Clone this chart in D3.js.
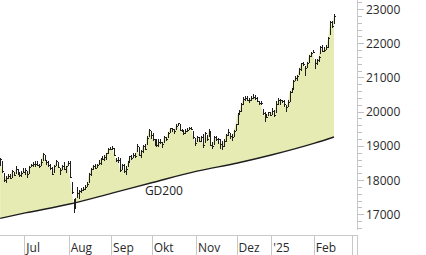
<!DOCTYPE html>
<html><head><meta charset="utf-8">
<script src="https://cdn.jsdelivr.net/npm/d3@7"></script>
<style>
html,body{margin:0;padding:0;background:#fff;}
svg{display:block;}
text{font-family:"Open Sans","Noto Sans",sans-serif;}
</style></head>
<body>
<svg id="c" width="426" height="255"></svg>
<script>
// Trading days from 12 Jun 2024 (index 0) to 17 Feb 2025 (index 173)
const opens = [18450,18540,18180,18000,18100,18150,18100,18230,18200,18310,18160,18170,18250,
18300,18250,18200,18400,18430,18450,18500,18430,18450,18600,18700,18560,18500,18400,18320,18250,18440,18500,18300,18350,18450,18300,18450,
18520,17900,17400,17400,17500,17550,17700,17750,17750,17850,17950,18150,18350,18450,18400,18480,18500,18650,18600,18700,18800,18920,
18910,18900,18600,18620,18600,18350,18450,18300,18400,18550,18680,18680,18730,18850,18950,18750,18850,19000,19050,19300,19400,
19300,19100,19150,19050,19150,19050,19100,19230,19250,19400,19500,19450,19480,19600,19620,19450,19400,19400,19450,19500,19500,19400,19200,
19150,19200,19150,19300,19100,19300,19300,19400,19050,19050,19250,19150,19150,19050,19050,19150,19350,19350,19300,19300,19450,
19650,19950,20050,20250,20350,20400,20350,20350,20420,20420,20380,20300,20250,20000,19950,19900,19900,19950,
19950,20000,20000,20250,20300,20320,20300,20150,20200,20300,20600,20700,20950,21000,21100,21250,21400,21300,21300,21450,21650,21750,
21400,21450,21550,21700,21900,21850,21850,21950,22300,22600,22600];
const highs = [18660,18560,18200,18120,18180,18190,18290,18250,18400,18330,18250,18260,18350,
18360,18280,18400,18480,18520,18550,18560,18480,18620,18780,18720,18600,18560,18480,18380,18430,18600,18520,18350,18450,18520,18420,18560,
18560,17950,17450,17480,17800,17700,17770,17800,17850,17950,18200,18350,18440,18480,18470,18580,18660,18700,18720,18800,18950,18970,
18990,18930,18650,18680,18650,18480,18470,18400,18560,18710,18720,18800,18800,19050,18970,18870,19020,19050,19280,19490,19430,
19380,19200,19200,19200,19200,19120,19280,19270,19400,19520,19520,19480,19630,19680,19650,19500,19450,19490,19510,19560,19560,19420,19230,
19300,19250,19280,19350,19400,19330,19500,19420,19100,19290,19300,19230,19200,19130,19200,19340,19480,19380,19350,19450,19650,
19950,20050,20250,20420,20450,20450,20400,20450,20522,20480,20420,20320,20300,20080,20000,19920,20000,19990,
20100,20050,20300,20400,20380,20350,20350,20200,20330,20600,20700,20920,21050,21060,21280,21420,21450,21320,21450,21650,21750,21800,
21550,21550,21620,21920,21950,21900,21950,22180,22650,22650,22850];
const lows = [18420,18220,17950,17920,18020,18030,18060,18120,18180,18150,18080,18100,18200,
18160,18060,18180,18370,18380,18380,18400,18350,18420,18560,18560,18440,18380,18300,18150,18230,18420,18350,18150,18300,18300,18200,18400,
18050,17600,17024,17150,17480,17450,17620,17680,17700,17800,17930,18130,18300,18330,18340,18460,18450,18580,18580,18600,18780,18870,
18880,18700,18520,18500,18250,18300,18210,18160,18380,18530,18600,18650,18650,18830,18700,18650,18780,18880,19020,19280,19200,
19150,19000,18980,18980,19050,18950,19080,19150,19230,19380,19400,19350,19450,19580,19440,19400,19320,19350,19400,19450,19450,19200,19000,
19120,19100,19100,18950,19080,19150,19280,19000,18900,19030,19150,19050,18900,18870,18960,19100,19300,19200,19150,19280,19430,
19620,19900,20000,20200,20300,20300,20250,20320,20380,20350,20280,20200,20200,19900,19700,19800,19880,19880,
19900,19850,19980,20200,20200,20250,20150,20000,20150,20280,20550,20680,20900,20900,21080,21200,21330,21050,21280,21420,21600,21700,
21250,21350,21450,21680,21750,21750,21800,21850,22250,22450,22550];
const closes = [18630,18265,18002,18068,18131,18067,18254,18163,18325,18177,18155,18210,18235,
18290,18164,18375,18450,18475,18472,18429,18407,18534,18748,18590,18518,18437,18354,18171,18407,18558,18387,18299,18418,18320,18411,18509,
18083,17661,17339,17354,17615,17680,17723,17726,17812,17885,18166,18322,18421,18357,18448,18493,18633,18617,18681,18782,18912,18906,
18930,18747,18592,18576,18301,18443,18266,18330,18518,18699,18633,18726,18711,19002,18720,18847,18996,18918,19238,19473,19325,
19213,19164,19015,19120,19104,19066,19254,19210,19373,19508,19486,19432,19583,19657,19461,19421,19378,19443,19463,19532,19479,19257,19078,
19255,19148,19256,19039,19362,19215,19448,19033,19003,19264,19211,19189,19060,19004,19146,19323,19405,19296,19262,19426,19626,
19934,20016,20232,20358,20385,20346,20329,20399,20427,20406,20314,20246,20242,19970,19885,19849,19985,19909,
20025,19906,20217,20340,20330,20317,20215,20133,20271,20575,20655,20903,20990,21042,21254,21411,21395,21282,21430,21637,21727,21732,
21428,21505,21586,21902,21787,21800,21893,22149,22612,22514,22798];

// GD200 (200-day moving average) read at selected trading days
const gdIdx  = [0,13,36,58,79,102,123,141,163,173];
const gdVals = [16880,17040,17300,17620,17930,18260,18500,18740,19080,19260];
const gdLabel = "GD200";

// month separators (index of first trading day) and labels
const monthStarts = [13,36,58,79,102,123,141,163,183];
const monthLabels = ["Jul","Aug","Sep","Okt","Nov","Dez","'25","Feb",""];

const yMajor = [17000,18000,19000,20000,21000,22000,23000];
const yMinorRange = [16600, 23200, 200];

const svg = d3.select("#c");
const axisX = 357, baseY = 235;

const x = d3.scaleLinear().domain([12.5, 182.5]).range([24.3, 352.3]);
const y = d3.scaleLinear().domain([17000, 23000]).range([214.3, 9]);

// fill between price and GD200
const topPts = closes.map((c,i)=>[x(i), y(c)]);
const botPts = gdIdx.map((d,i)=>[x(d), y(gdVals[i])]).reverse();
svg.append("path")
  .attr("d", d3.line()(topPts.concat(botPts)) + "Z")
  .attr("fill", "#e6eab3").attr("stroke","none");

// GD200 line
svg.append("path")
  .attr("d", d3.line().x((d,i)=>x(gdIdx[i])).y(d=>y(d)).curve(d3.curveMonotoneX)(gdVals))
  .attr("fill","none").attr("stroke","#1e1e1e").attr("stroke-width",1.4);

// OHLC bars
const bars = svg.append("g").attr("stroke","#1e1e1e").attr("stroke-width",1).attr("shape-rendering","crispEdges");
closes.forEach((c,i)=>{
  const cx = Math.round(x(i)) + 0.5;
  bars.append("line").attr("x1",cx).attr("x2",cx).attr("y1",y(highs[i])).attr("y2",y(lows[i]));
  bars.append("line").attr("x1",cx-1).attr("x2",cx).attr("y1",Math.round(y(opens[i]))+0.5).attr("y2",Math.round(y(opens[i]))+0.5);
  bars.append("line").attr("x1",cx).attr("x2",cx+1).attr("y1",Math.round(y(c))+0.5).attr("y2",Math.round(y(c))+0.5);
});

// GD200 label
svg.append("text").attr("x", x(75)).attr("y", y(17550)).text(gdLabel)
  .attr("font-size",12).attr("fill","#222");

// right axis
const ax = svg.append("g").attr("shape-rendering","crispEdges");
ax.append("line").attr("x1",axisX+0.5).attr("x2",axisX+0.5).attr("y1",0).attr("y2",230).attr("stroke","#c8c8c8");
ax.append("line").attr("x1",axisX+0.5).attr("x2",axisX+0.5).attr("y1",baseY).attr("y2",255).attr("stroke","#c8c8c8");
const minor = d3.range(yMinorRange[0], yMinorRange[1]+1, yMinorRange[2]);
ax.selectAll("line.mn").data(minor).join("line").attr("class","mn")
  .attr("x1",axisX+1).attr("x2",d=>yMajor.includes(d)?axisX+7:axisX+5)
  .attr("y1",d=>Math.round(y(d))+0.5).attr("y2",d=>Math.round(y(d))+0.5)
  .attr("stroke","#c0c0c0");
ax.selectAll("text").data(yMajor).join("text")
  .attr("x", axisX+9).attr("y", d=>y(d)+4.5).text(d=>d)
  .attr("font-size",12).attr("fill","#2a2a2a");

// bottom axis
const bx = svg.append("g").attr("shape-rendering","crispEdges");
bx.append("line").attr("x1",0).attr("x2",axisX).attr("y1",baseY+0.5).attr("y2",baseY+0.5).attr("stroke","#c8c8c8");
bx.selectAll("line.sep").data(monthStarts).join("line").attr("class","sep")
  .attr("x1",d=>Math.round(x(d-0.5))+0.5).attr("x2",d=>Math.round(x(d-0.5))+0.5)
  .attr("y1",baseY).attr("y2",255).attr("stroke","#c8c8c8");
bx.selectAll("text").data(monthStarts).join("text")
  .attr("x",d=>x(d-0.5)+2).attr("y",251.5).text((d,i)=>monthLabels[i])
  .attr("font-size",12).attr("fill","#2a2a2a");
</script>
</body></html>
